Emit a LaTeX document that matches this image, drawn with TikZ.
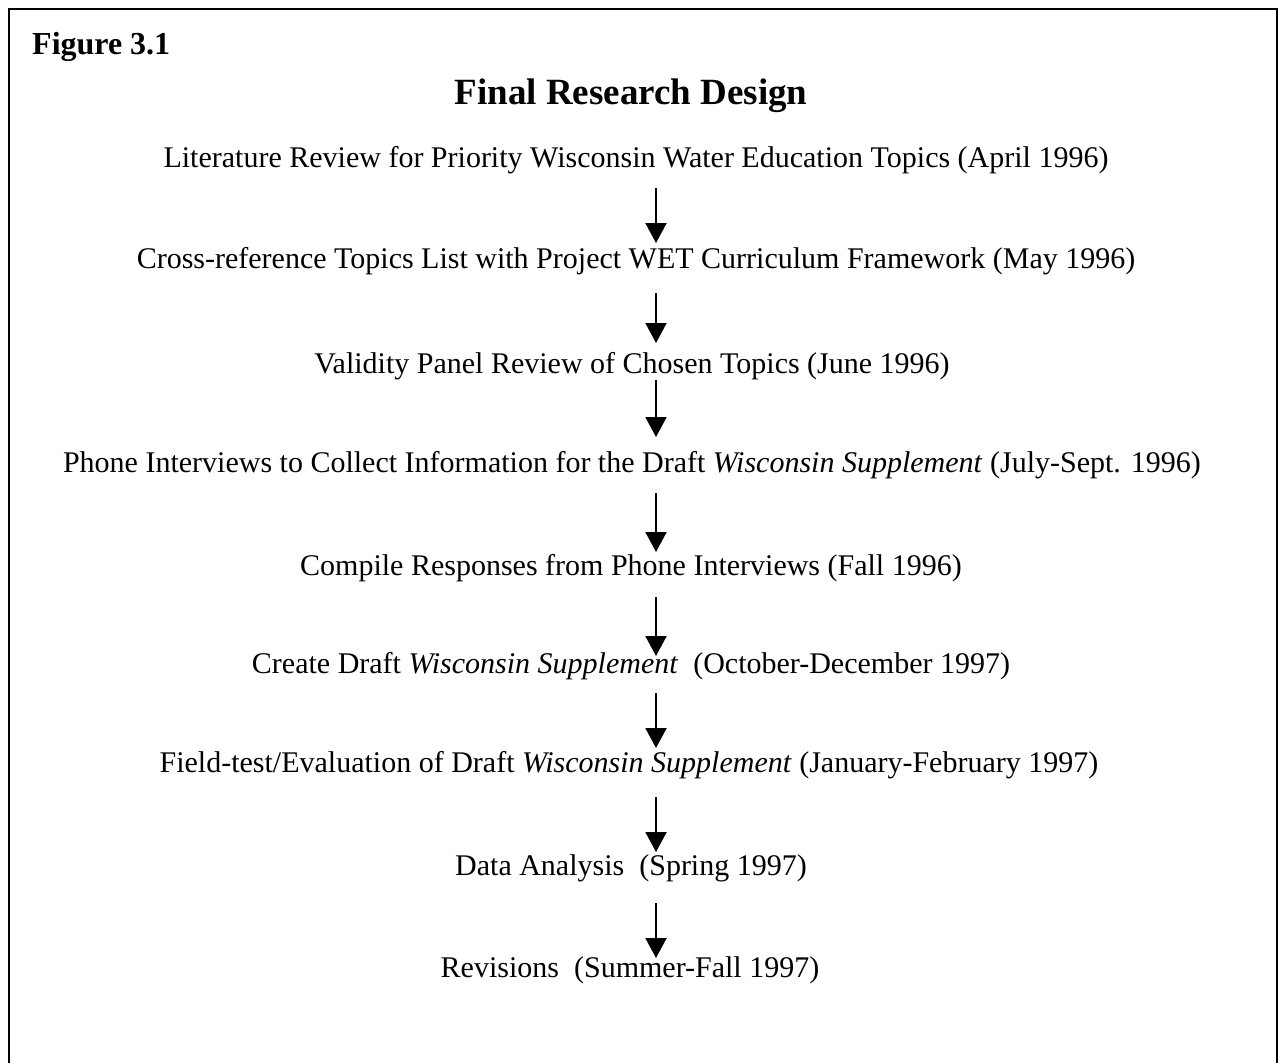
\documentclass[tikz,border=0pt]{standalone}
\usepackage{fontspec}
\setmainfont{Liberation Serif}
\usetikzlibrary{arrows.meta}
\begin{document}
\begin{tikzpicture}[x=1pt,y=-1pt,
  body/.style={anchor=base,inner sep=0pt,font=\fontsize{30}{36}\selectfont},
  arr/.style={line width=2pt,-{Triangle[length=20pt,width=21pt]}},
  frame/.style={line width=2.5pt}]
\useasboundingbox (0,0) rectangle (1278,1063);
\draw[frame] (9,1063) -- (9,9) -- (1277,9) -- (1277,1063);
\node[anchor=base west,inner sep=0pt,font=\fontsize{32}{38}\selectfont\bfseries] (fig) at (32,54) {Figure 3.1};
\node[anchor=base,inner sep=0pt,font=\fontsize{37}{44}\selectfont\bfseries] (title) at (631,104) {Final Research Design};
\node[body] (n1) at (636,167) {Literature Review for Priority Wisconsin Water Education Topics (April 1996)};
\node[body] (n2) at (636,268) {Cross-reference Topics List with Project WET Curriculum Framework (May 1996)};
\node[body] (n3) at (632,373) {Validity Panel Review of Chosen Topics (June 1996)};
\node[body] (n4) at (632,472) {Phone Interviews to Collect Information for the Draft \textit{Wisconsin Supplement} (July-Sept. 1996)};
\node[body] (n5) at (631,575) {Compile Responses from Phone Interviews (Fall 1996)};
\node[body] (n6) at (631,673) {Create Draft \textit{Wisconsin Supplement}\ \ (October-December 1997)};
\node[body] (n7) at (629,772) {Field-test/Evaluation of Draft \textit{Wisconsin Supplement} (January-February 1997)};
\node[body] (n8) at (631,875) {Data Analysis\ \ (Spring 1997)};
\node[body] (n9) at (630,977) {Revisions\ \ (Summer-Fall 1997)};
\coordinate (a1s) at (656,188); \coordinate (a1e) at (656,243);
\coordinate (a2s) at (656,293); \coordinate (a2e) at (656,343);
\coordinate (a3s) at (656,380); \coordinate (a3e) at (656,437);
\coordinate (a4s) at (656,493); \coordinate (a4e) at (656,552);
\coordinate (a5s) at (656,597); \coordinate (a5e) at (656,656);
\coordinate (a6s) at (656,693); \coordinate (a6e) at (656,748);
\coordinate (a7s) at (656,797); \coordinate (a7e) at (656,852);
\coordinate (a8s) at (656,903); \coordinate (a8e) at (656,958);
\draw[arr] (a1s) -- (a1e);
\draw[arr] (a2s) -- (a2e);
\draw[arr] (a3s) -- (a3e);
\draw[arr] (a4s) -- (a4e);
\draw[arr] (a5s) -- (a5e);
\draw[arr] (a6s) -- (a6e);
\draw[arr] (a7s) -- (a7e);
\draw[arr] (a8s) -- (a8e);
\end{tikzpicture}
\end{document}
